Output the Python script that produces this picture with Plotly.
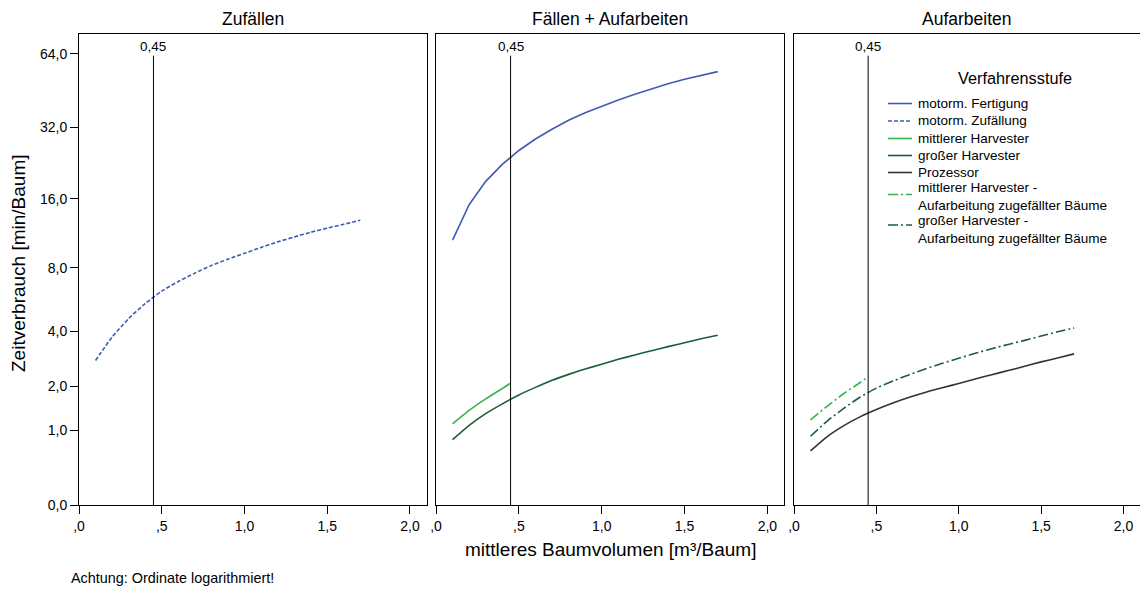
import numpy as np
import plotly.graph_objects as go

# ---- data -------------------------------------------------------------
# mean tree volume [m³/tree]
volume = [0.1, 0.2, 0.3, 0.4, 0.5, 0.6, 0.7, 0.8, 0.9, 1.0,
          1.1, 1.2, 1.3, 1.4, 1.5, 1.6, 1.7]
volume_short = [0.1, 0.2, 0.3, 0.4, 0.45]

# time consumption [min/tree]
motorm_zufaellung = [2.81, 3.73, 4.61, 5.45, 6.24, 6.91, 7.55, 8.17, 8.73, 9.27,
                     9.85, 10.42, 10.95, 11.48, 11.97, 12.44, 12.95]
motorm_fertigung = [10.6, 15.1, 19.0, 22.4, 25.6, 28.6, 31.4, 34.2, 36.7, 39.1,
                    41.5, 43.8, 46.1, 48.3, 50.4, 52.4, 54.2]
mittlerer_harvester = [1.12, 1.40, 1.67, 1.94, 2.09]
grosser_harvester = [0.83, 1.09, 1.33, 1.55, 1.77, 1.97, 2.17, 2.35, 2.52, 2.68,
                     2.85, 3.01, 3.17, 3.33, 3.49, 3.66, 3.81]
prozessor = [0.65, 0.88, 1.08, 1.26, 1.42, 1.57, 1.71, 1.84, 1.96, 2.08,
             2.21, 2.34, 2.47, 2.61, 2.76, 2.90, 3.05]
mittlerer_harvester_zuf = [1.20, 1.49, 1.80, 2.10, 2.28]
grosser_harvester_zuf = [0.89, 1.17, 1.44, 1.71, 1.95, 2.15, 2.34, 2.53, 2.71, 2.89,
                         3.07, 3.25, 3.42, 3.59, 3.78, 3.97, 4.15]

reference_volume = 0.45
reference_label = "0,45"
reference_top = 63

panel_titles = ["Zufällen", "Fällen + Aufarbeiten", "Aufarbeiten"]
y_tick_values = [0, 1, 2, 4, 8, 16, 32, 64]
y_tick_text = ["0,0", "1,0", "2,0", "4,0", "8,0", "16,0", "32,0", "64,0"]
x_tick_values = [0, 0.5, 1.0, 1.5, 2.0]
x_tick_text = [",0", ",5", "1,0", "1,5", "2,0"]

legend_title = "Verfahrensstufe"
legend_names = [
    "motorm. Fertigung",
    "motorm. Zufällung",
    "mittlerer Harvester",
    "großer Harvester",
    "Prozessor",
    "mittlerer Harvester -<br>Aufarbeitung zugefällter Bäume",
    "großer Harvester -<br>Aufarbeitung zugefällter Bäume",
]

# ---- styling ------------------------------------------------------------
FONT = "Arial, 'Liberation Sans', sans-serif"
BLUE = "#3f5bb3"
LIGHT_GREEN = "#35b44c"
DARK_GREEN = "#1b5e36"
GREY = "#333333"
DASH_SHORT = "4px,2px"
DASH_DOT = "10px,3px,2px,3px"

W, H = 1140, 592
ML, MR, MT, MB = 79, 0, 34, 87
PW, PH = W - ML - MR, H - MT - MB


def px_x(px):
    return (px - ML) / PW


def px_y(py):
    return (H - MB - py) / PH


def shifted(values):
    # ordinate is log(1 + t), so zero sits on the axis baseline
    return np.asarray(values, dtype=float) + 1.0


fig = go.Figure()

series = [
    # name, x, y, axis, colour, dash, smooth
    (legend_names[0], volume, motorm_fertigung, 2, BLUE, "solid", False),
    (legend_names[1], volume, motorm_zufaellung, 1, BLUE, DASH_SHORT, True),
    (legend_names[2], volume_short, mittlerer_harvester, 2, LIGHT_GREEN, "solid", True),
    (legend_names[3], volume, grosser_harvester, 2, DARK_GREEN, "solid", True),
    (legend_names[4], volume, prozessor, 3, GREY, "solid", True),
    (legend_names[5], volume_short, mittlerer_harvester_zuf, 3, LIGHT_GREEN, DASH_DOT, True),
    (legend_names[6], volume, grosser_harvester_zuf, 3, DARK_GREEN, DASH_DOT, True),
]

for name, xs, ys, ax, color, dash, smooth in series:
    line = dict(color=color, width=1.6, dash=dash)
    if smooth:
        line.update(shape="spline", smoothing=0.6)
    fig.add_trace(go.Scatter(
        x=xs, y=shifted(ys), mode="lines", name=name.replace("<br>", " "),
        line=line,
        xaxis="x" if ax == 1 else f"x{ax}", yaxis="y" if ax == 1 else f"y{ax}",
        showlegend=False,
    ))

# reference volume marker in each panel
for ax in (1, 2, 3):
    fig.add_trace(go.Scatter(
        x=[reference_volume, reference_volume], y=shifted([0, reference_top]),
        mode="lines", line=dict(color="#000000", width=1), hoverinfo="skip",
        xaxis="x" if ax == 1 else f"x{ax}", yaxis="y" if ax == 1 else f"y{ax}",
        showlegend=False,
    ))

# ---- axes ---------------------------------------------------------------
domains = [(0.0, px_x(426.5)), (px_x(436), px_x(784)), (px_x(794), 1.0)]
y_range = [0, np.log10(78.2)]

layout = dict(
    width=W, height=H,
    margin=dict(l=ML, r=MR, t=MT, b=MB),
    paper_bgcolor="white", plot_bgcolor="white",
    font=dict(family=FONT, size=14, color="#000000"),
    showlegend=False,
)

for i, dom in enumerate(domains, start=1):
    xk = "xaxis" if i == 1 else f"xaxis{i}"
    yk = "yaxis" if i == 1 else f"yaxis{i}"
    layout[xk] = dict(
        domain=list(dom), range=[0, 2.1], anchor="y" if i == 1 else f"y{i}",
        tickvals=x_tick_values, ticktext=x_tick_text,
        ticks="outside", ticklen=8, tickcolor="#000000", tickwidth=1,
        showline=True, mirror=True, linecolor="#000000", linewidth=1,
        showgrid=False, zeroline=False, tickfont=dict(size=14),
    )
    layout[yk] = dict(
        type="log", range=y_range, anchor="x" if i == 1 else f"x{i}",
        domain=[0, 1],
        showline=True, mirror=True, linecolor="#000000", linewidth=1,
        showgrid=False, zeroline=False,
    )
    if i == 1:
        layout[yk].update(
            tickvals=list(shifted(y_tick_values)), ticktext=y_tick_text,
            ticks="outside", ticklen=8, tickcolor="#000000", tickwidth=1,
            tickfont=dict(size=14),
        )
    else:
        layout[yk].update(showticklabels=False, ticks="")

fig.update_layout(**layout)

annotations = []
centers = [(d[0] + d[1]) / 2 for d in domains]
for title, cx in zip(panel_titles, centers):
    annotations.append(dict(
        text=title, x=cx, y=px_y(19.5), xref="paper", yref="paper",
        showarrow=False, xanchor="center", yanchor="middle", font=dict(size=17.5),
    ))
for ax in ("x", "x2", "x3"):
    annotations.append(dict(
        text=reference_label, x=reference_volume, y=px_y(46), xref=ax, yref="paper",
        showarrow=False, xanchor="center", yanchor="middle", font=dict(size=13.5),
    ))

annotations += [
    dict(text="mittleres Baumvolumen [m³/Baum]", x=centers[1], y=px_y(549),
         xref="paper", yref="paper", showarrow=False, xanchor="center",
         yanchor="middle", font=dict(size=19)),
    dict(text="Zeitverbrauch [min/Baum]", x=px_x(18), y=px_y(263),
         xref="paper", yref="paper", showarrow=False, textangle=-90,
         xanchor="center", yanchor="middle", font=dict(size=19)),
    dict(text="Achtung: Ordinate logarithmiert!", x=px_x(69), y=px_y(578),
         xref="paper", yref="paper", showarrow=False, xanchor="left",
         yanchor="middle", font=dict(size=14.4)),
    dict(text=legend_title, x=px_x(1015), y=px_y(78), xref="paper", yref="paper",
         showarrow=False, xanchor="center", yanchor="middle", font=dict(size=16.3)),
]

# ---- legend (samples + labels) -----------------------------------------
shapes = []
sample_rows = [103.5, 121, 138.5, 155.5, 172.5, 194.5, 225]
text_rows = [103.5, 121, 138.5, 155.5, 172.5, 196, 229]
for (name, _, _, _, color, dash, _), sy, ty in zip(series, sample_rows, text_rows):
    shapes.append(dict(
        type="line", xref="paper", yref="paper",
        x0=px_x(888), x1=px_x(912), y0=px_y(sy), y1=px_y(sy),
        line=dict(color=color, width=1.6, dash=dash),
    ))
    annotations.append(dict(
        text=name, x=px_x(916), y=px_y(ty), xref="paper", yref="paper",
        showarrow=False, xanchor="left", yanchor="middle", align="left",
        font=dict(size=13.5),
    ))

fig.update_layout(annotations=annotations, shapes=shapes)

fig.write_html("out.html")
